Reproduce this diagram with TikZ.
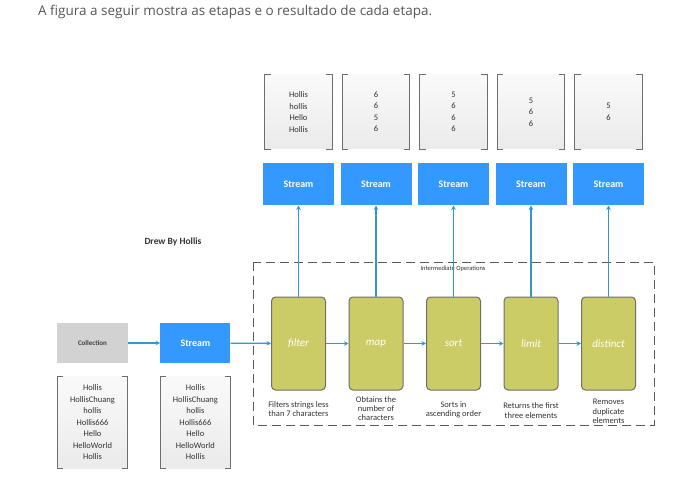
\documentclass[tikz,border=0pt]{standalone}
\usepackage{fontspec}
\setmainfont{Open Sans}
\newfontfamily\sketchfont{Carlito}
\usetikzlibrary{positioning,arrows.meta}

\definecolor{streamblue}{RGB}{51,153,255}
\definecolor{flowblue}{RGB}{51,153,204}
\definecolor{opolive}{RGB}{204,204,102}
\definecolor{edgegray}{RGB}{110,110,110}
\definecolor{headgray}{RGB}{85,85,85}

\begin{document}
\begin{tikzpicture}[x=1pt, y=-1pt, node distance=22.5pt,
  opbox/.style={draw=edgegray, line width=1pt, fill=opolive, rounded corners=4pt,
    minimum width=54pt, minimum height=93pt, text=white,
    font=\sketchfont\fontsize{11}{13}\selectfont\itshape},
  streambox/.style={fill=streamblue, minimum width=71pt, minimum height=42pt,
    text=white, font=\sketchfont\fontsize{10}{12}\selectfont\bfseries},
  resultbox/.style={top color=gray!4, bottom color=gray!16, minimum width=67pt,
    minimum height=74pt, align=center, text=black!80,
    font=\sketchfont\fontsize{8.5}{11.5}\selectfont},
  listbox/.style={resultbox, minimum width=70pt, minimum height=92pt},
  collbox/.style={fill=gray!35, minimum width=71pt, minimum height=40pt,
    text=black!75, font=\sketchfont\fontsize{7}{8}\selectfont\bfseries},
  descnote/.style={align=center, inner sep=0pt, text=black!80,
    font=\sketchfont\fontsize{8.5}{9.3}\selectfont},
  bracket/.style={draw=edgegray, line width=1pt},
  flow/.style={draw=flowblue, line width=1.3pt, -{Stealth[length=4.5pt,width=4.5pt]}},
  opsframe/.style={draw=gray!70!black, line width=0.9pt, dash pattern=on 9pt off 5pt}
]
\useasboundingbox (0,0) rectangle (681,477);

\node[anchor=west, inner sep=0pt, text=headgray, font=\fontsize{13.5}{16}\selectfont]
  (head) at (38,12) {A figura a seguir mostra as etapas e o resultado de cada etapa.};

% intermediate operations
\node[opbox] (filter) at (298.5,343.5) {filter};
\node[opbox] (map) [right=of filter] {map};
\node[opbox] (sort) [right=of map] {sort};
\node[opbox] (limit) [right=of sort] {limit};
\node[opbox] (distinct) [right=of limit] {distinct};

\draw[opsframe] (253,262) rectangle (654,425);
\node[inner sep=0pt, text=black!80, font=\sketchfont\fontsize{6.5}{7}\selectfont]
  (opslabel) at (453,269) {Intermediate Operations};

\node[descnote] (d_filter) at ([yshift=-18.5pt]filter.south) {Filters strings less\\than 7 characters};
\node[descnote] (d_map) at ([yshift=-18pt]map.south) {Obtains the\\number of\\characters};
\node[descnote] (d_sort) at ([yshift=-19pt]sort.south) {Sorts in\\ascending order};
\node[descnote] (d_limit) at ([yshift=-20pt]limit.south) {Returns the first\\three elements};
\node[descnote] (d_distinct) at ([yshift=-21pt]distinct.south) {Removes\\duplicate\\elements};

% streams and their results
\foreach \op/\s in {filter/s1, map/s2, sort/s3, limit/s4, distinct/s5}
  \node[streambox] (\s) [above=91pt of \op] {Stream};

\node[resultbox] (r1) [above=14pt of s1] {Hollis\\hollis\\Hello\\Hollis};
\node[resultbox] (r2) [above=14pt of s2] {6\\6\\5\\6};
\node[resultbox] (r3) [above=14pt of s3] {5\\6\\6\\6};
\node[resultbox] (r4) [above=14pt of s4] {5\\6\\6};
\node[resultbox] (r5) [above=14pt of s5] {5\\6};

% source
\node[collbox] (coll) at (92.5,343) {Collection};
\node[streambox, minimum width=70pt, minimum height=40pt] (src) [right=32pt of coll] {Stream};
\node[listbox] (l1) [below=13pt of coll] {Hollis\\HollisChuang\\hollis\\Hollis666\\Hello\\HelloWorld\\Hollis};
\node[listbox] (l2) [below=13pt of src] {Hollis\\HollisChuang\\hollis\\Hollis666\\Hello\\HelloWorld\\Hollis};

\node[text=black!80, font=\sketchfont\fontsize{9.5}{11}\selectfont\bfseries] (credit) at (173,242) {Drew By Hollis};

\foreach \b in {r1, r2, r3, r4, r5, l1, l2}
  \draw[bracket] ([xshift=6pt]\b.north west) -- (\b.north west) -- (\b.south west) -- ++(6pt,0)
    ([xshift=-6pt]\b.north east) -- (\b.north east) -- (\b.south east) -- ++(-6pt,0);

% connectors
\draw[flow] (coll) -- (src);
\draw[flow] (src) -- (filter);
\foreach \a/\b in {filter/map, map/sort, sort/limit, limit/distinct}
  \draw[flow] (\a) -- (\b);
\foreach \op/\s in {filter/s1, map/s2, sort/s3, limit/s4, distinct/s5}
  \draw[flow] (\op) -- (\s);

\end{tikzpicture}
\end{document}
